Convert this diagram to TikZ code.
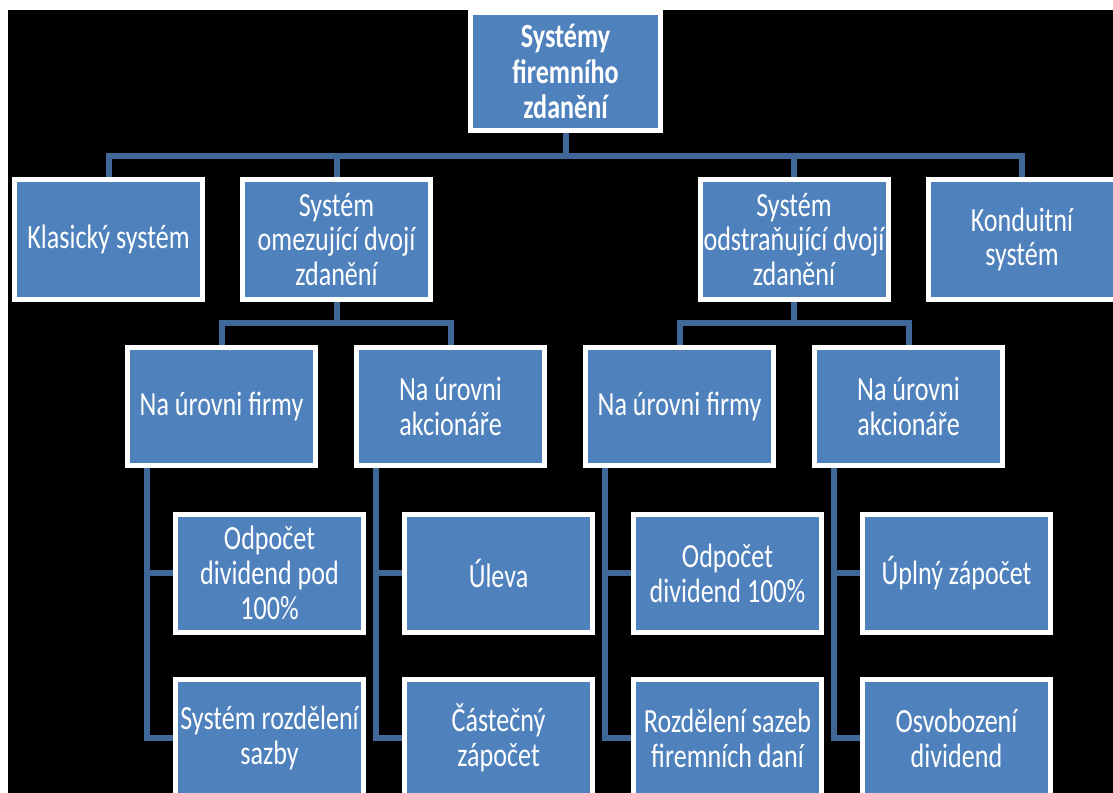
\documentclass[tikz,border=0pt]{standalone}
\usepackage{fontspec}
\setmainfont{Carlito}[FakeStretch=0.77]
\usepackage{tikz}
\definecolor{boxblue}{HTML}{4F81BD}
\definecolor{lineblue}{HTML}{3F6899}

\begin{document}
\begin{tikzpicture}[x=1bp, y=1bp,
    box/.style={draw=white, line width=5bp, fill=boxblue, text=white, align=center,
        inner sep=0pt, minimum width=188bp, minimum height=118bp,
        font=\fontsize{34}{35}\selectfont},
    conn/.style={draw=lineblue, line width=6bp}]
    \useasboundingbox (0,0) rectangle (1113,-793);
    \fill[white] (0,0) rectangle (1113,-793);
    \fill[black] (8,-10) rectangle (1113,-793);
    \clip (8,-10) rectangle (1113,-793);

    % root
    \node[box, minimum width=190bp, font=\fontsize{34}{36}\selectfont\bfseries] (sys) at (565.5,-71.5) {Systémy\\firemního\\zdanění};

    % first level
    \node[box, minimum height=120bp] (klas) at (108.5,-239.5) {Klasický systém};
    \node[box, minimum height=120bp] (omez) at (336.5,-239.5) {Systém\\omezující dvojí\\zdanění};
    \node[box, minimum height=120bp] (odst) at (794,-239.5) {Systém\\odstraňující dvojí\\zdanění};
    \node[box, minimum height=120bp] (kond) at (1022,-239.5) {Konduitní\\systém};

    % second level
    \node[box] (omezF) at (221.5,-406.5) {Na úrovni firmy};
    \node[box] (omezA) at (450.5,-406.5) {Na úrovni\\akcionáře};
    \node[box] (odstF) at (679.5,-406.5) {Na úrovni firmy};
    \node[box] (odstA) at (908.5,-406.5) {Na úrovni\\akcionáře};

    % third and fourth level
    \node[box] (odpPod) at (269.5,-573) {Odpočet\\dividend pod\\100\%};
    \node[box] (uleva) at (498.5,-573) {Úleva};
    \node[box] (odpPlne) at (727.5,-573) {Odpočet\\dividend 100\%};
    \node[box] (uplny) at (956.5,-573) {Úplný zápočet};
    \node[box] (rozSazby) at (269.5,-738) {Systém rozdělení\\sazby};
    \node[box] (castZap) at (498.5,-738) {Částečný\\zápočet};
    \node[box] (rozFirm) at (727.5,-738) {Rozdělení sazeb\\firemních daní};
    \node[box] (osvob) at (956.5,-738) {Osvobození\\dividend};

    \coordinate (busA) at (0,-155.5);
    \coordinate (busB) at (0,-323);

    \draw[conn] (sys.south) -- (sys.south |- busA);
    \draw[conn] (klas.north) |- (kond.north |- busA) -- (kond.north);
    \draw[conn] (omez.north) -- (omez.north |- busA);
    \draw[conn] (odst.north) -- (odst.north |- busA);

    \draw[conn] (omez.south) -- (omez.south |- busB);
    \draw[conn] (omezF.north) |- (omezA.north |- busB) -- (omezA.north);
    \draw[conn] (odst.south) -- (odst.south |- busB);
    \draw[conn] (odstF.north) |- (odstA.north |- busB) -- (odstA.north);

    \draw[conn] ([xshift=21.5bp]omezF.south west) |- (rozSazby.west);
    \draw[conn] ([xshift=21.5bp]omezF.south west) |- (odpPod.west);
    \draw[conn] ([xshift=21.5bp]omezA.south west) |- (castZap.west);
    \draw[conn] ([xshift=21.5bp]omezA.south west) |- (uleva.west);
    \draw[conn] ([xshift=21.5bp]odstF.south west) |- (rozFirm.west);
    \draw[conn] ([xshift=21.5bp]odstF.south west) |- (odpPlne.west);
    \draw[conn] ([xshift=21.5bp]odstA.south west) |- (osvob.west);
    \draw[conn] ([xshift=21.5bp]odstA.south west) |- (uplny.west);
\end{tikzpicture}
\end{document}
